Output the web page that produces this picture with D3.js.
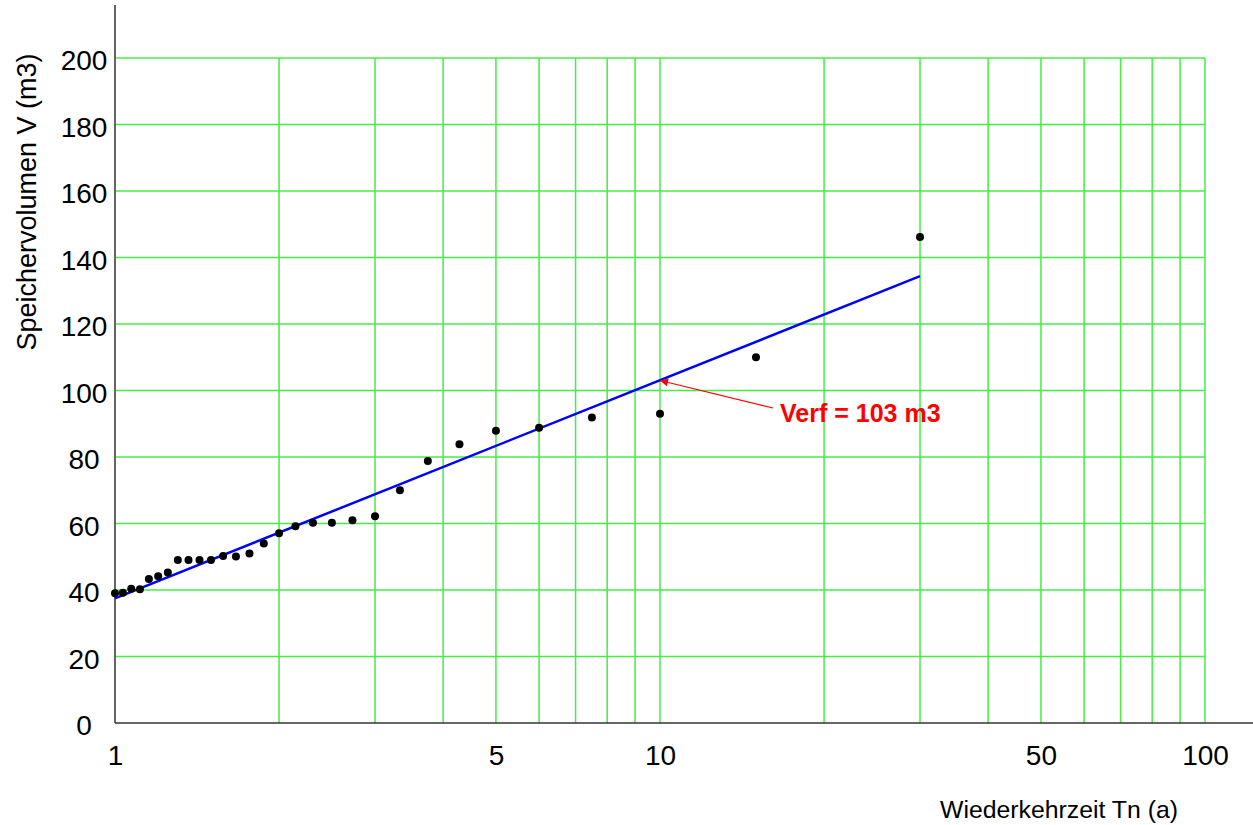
<!DOCTYPE html>
<html>
<head>
<meta charset="utf-8">
<script src="https://cdn.jsdelivr.net/npm/d3@7"></script>
<style>
  body { margin: 0; background: #fff; }
  svg { display: block; font-family: "Liberation Sans", Arial, sans-serif; }
</style>
</head>
<body>
<div id="chart"></div>
<script>
// return period (a) and storage volume (m3) of the ranked events
var returnPeriods = [1.00, 1.034, 1.071, 1.111, 1.154, 1.20, 1.25, 1.304, 1.364, 1.429,
    1.50, 1.579, 1.667, 1.765, 1.875, 2.00, 2.143, 2.308, 2.50, 2.727,
    3.00, 3.333, 3.75, 4.286, 5.00, 6.00, 7.50, 10.0, 15.0, 30.0];
var volumes = [39.0, 39.2, 40.4, 40.2, 43.3, 44.1, 45.3, 49.0, 49.0, 49.0,
    49.0, 50.2, 50.1, 51.0, 54.0, 57.1, 59.2, 60.2, 60.2, 61.0,
    62.2, 70.0, 78.8, 83.8, 87.9, 88.8, 91.9, 93.0, 110.0, 146.2];

// fitted line end points
var fitT = [1, 30];
var fitV = [37.5, 134.4];

// annotation
var verfT = 10;
var verfV = 103;
var verfLabel = "Verf = 103 m3";

var yTicks = [0, 20, 40, 60, 80, 100, 120, 140, 160, 180, 200];
var xGrid = [2, 3, 4, 5, 6, 7, 8, 9, 10, 20, 30, 40, 50, 60, 70, 80, 90, 100];
var xLabels = [1, 5, 10, 50, 100];

var width = 1253;
var height = 825;
var gridColor = "#44ee44";

var svg = d3.select("#chart")
    .append("svg")
    .attr("width", width)
    .attr("height", height);

var x = d3.scaleLog()
    .domain([1, 100])
    .range([115, 1205]);

var y = d3.scaleLinear()
    .domain([0, 200])
    .range([723, 58]);

// grid
svg.append("g")
    .selectAll("line")
    .data(yTicks.slice(1))
    .join("line")
    .attr("x1", x(1))
    .attr("x2", x(100))
    .attr("y1", d => y(d))
    .attr("y2", d => y(d))
    .attr("stroke", gridColor)
    .attr("stroke-width", 1.5);

svg.append("g")
    .selectAll("line")
    .data(xGrid)
    .join("line")
    .attr("x1", d => x(d))
    .attr("x2", d => x(d))
    .attr("y1", y(0))
    .attr("y2", y(200))
    .attr("stroke", gridColor)
    .attr("stroke-width", 1.5);

// axes (labels only), y labels centred in their column
var yAxis = svg.append("g")
    .attr("transform", "translate(" + x(1) + ",0)")
    .call(d3.axisLeft(y).tickValues(yTicks).tickSize(0).tickPadding(31));
yAxis.select(".domain").remove();
yAxis.selectAll("text")
    .attr("text-anchor", "middle")
    .attr("dy", "0.42em")
    .style("font-size", "28px")
    .attr("fill", "#000");

var xAxis = svg.append("g")
    .attr("transform", "translate(0," + y(0) + ")")
    .call(d3.axisBottom(x).tickValues(xLabels).tickFormat(d3.format("d")).tickSize(0).tickPadding(22));
xAxis.select(".domain").remove();
xAxis.selectAll("text")
    .style("font-size", "28px")
    .attr("fill", "#000");

svg.append("line")
    .attr("x1", x(1)).attr("x2", x(1))
    .attr("y1", 5).attr("y2", y(0))
    .attr("stroke", "#555")
    .attr("stroke-width", 1.8);

svg.append("line")
    .attr("x1", x(1)).attr("x2", width)
    .attr("y1", y(0)).attr("y2", y(0))
    .attr("stroke", "#333")
    .attr("stroke-width", 1.5);

// titles
svg.append("text")
    .attr("transform", "translate(36,202) rotate(-90)")
    .attr("text-anchor", "middle")
    .style("font-size", "27px")
    .text("Speichervolumen V (m3)");

svg.append("text")
    .attr("x", 940)
    .attr("y", 818)
    .style("font-size", "24.8px")
    .text("Wiederkehrzeit Tn (a)");

// fit line
var fitData = fitT.map((t, i) => ({ t: t, v: fitV[i] }));
svg.append("path")
    .datum(fitData)
    .attr("d", d3.line().x(d => x(d.t)).y(d => y(d.v)))
    .attr("fill", "none")
    .attr("stroke", "#0000ff")
    .attr("stroke-width", 2.5);

// points
var pts = returnPeriods.map((t, i) => ({ t: t, v: volumes[i] }));
svg.append("g")
    .selectAll("circle")
    .data(pts)
    .join("circle")
    .attr("cx", d => x(d.t))
    .attr("cy", d => y(d.v))
    .attr("r", 4)
    .attr("fill", "#000");

// annotation arrow
svg.append("defs")
    .append("marker")
    .attr("id", "arrow")
    .attr("viewBox", "0 0 10 10")
    .attr("refX", 10)
    .attr("refY", 5)
    .attr("markerWidth", 14)
    .attr("markerHeight", 8)
    .attr("markerUnits", "userSpaceOnUse")
    .attr("orient", "auto")
    .append("path")
    .attr("d", "M0,0 L10,5 L0,10 Z")
    .attr("fill", "#ff0000");

svg.append("line")
    .attr("x1", 773)
    .attr("y1", 408)
    .attr("x2", x(verfT))
    .attr("y2", y(verfV))
    .attr("stroke", "#ff0000")
    .attr("stroke-width", 1.2)
    .attr("marker-end", "url(#arrow)");

svg.append("text")
    .attr("x", 780)
    .attr("y", 422)
    .attr("fill", "#ff0000")
    .style("font-size", "25px")
    .style("font-weight", "bold")
    .text(verfLabel);
</script>
</body>
</html>
